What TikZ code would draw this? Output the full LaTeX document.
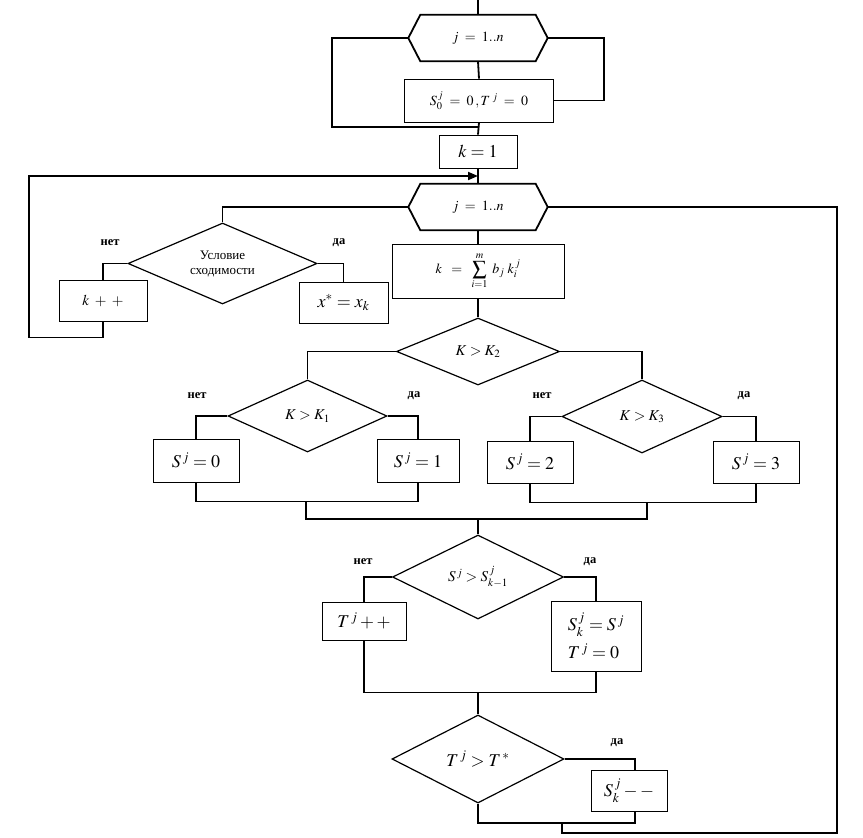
\documentclass[tikz,border=0pt]{standalone}
\usepackage{mathptmx}
\usepackage[no-math]{fontspec}
\setmainfont{Liberation Serif}
\usetikzlibrary{shapes.geometric,arrows.meta}

% loop head drawn as a hexagon round a named node
\newcommand{\hexloop}[1]{%
	\draw[hexline] (#1.west) -- ([xshift=12pt]#1.north west) -- ([xshift=-12pt]#1.north east)
	-- (#1.east) -- ([xshift=-12pt]#1.south east) -- ([xshift=12pt]#1.south west) -- cycle;}

\begin{document}
\begin{tikzpicture}[x=1pt, y=-1pt, >={Triangle[length=10pt,width=8pt]}]
				\tikzstyle{box} = [draw, line width=0.8pt, inner sep=0pt]
				\tikzstyle{test} = [draw, diamond, line width=1.2pt, inner sep=0pt]
				\tikzstyle{loophead} = [inner sep=0pt, minimum width=139pt, minimum height=46pt]
				\tikzstyle{hexline} = [line width=1.8pt]
				\tikzstyle{wire} = [line width=1.8pt]
				\tikzstyle{lbl} = [font=\fontsize{12.5}{14}\selectfont\bfseries]
				\tikzstyle{bigm} = [font=\fontsize{18}{22}\selectfont]
				\tikzstyle{midm} = [font=\fontsize{15}{18}\selectfont]
				\tikzstyle{smallm} = [font=\fontsize{14}{16}\selectfont]
				\useasboundingbox (0,0) rectangle (863,838);
				% nodes
				\node[loophead, smallm] (h1) at (478,38) {$j\;=\;1..n$};
				\hexloop{h1}
				\node[box, smallm, minimum width=149pt, minimum height=43pt] (s0) at (479,100.5) {$S_{0}^{\,j}\;=\;0\,,T^{\;j}\;=\;0$};
				\node[box, bigm, minimum width=78pt, minimum height=33pt] (k1) at (478,151.5) {$k=1$};
				\node[loophead, smallm] (h2) at (478,207) {$j\;=\;1..n$};
				\hexloop{h2}
				\node[box, smallm, minimum width=172pt, minimum height=54pt] (sum) at (478,271) {$\displaystyle k\;\;=\;\;\sum_{i=1}^{m}\;b_{j}\;k_{i}^{\,j}$};
				\node[test, aspect=2.33, minimum width=189pt, minimum height=81pt, align=center, font=\fontsize{13}{15}\selectfont] (conv) at (222.5,263.5) {Условие\\сходимости};
				\node[box, midm, minimum width=88pt, minimum height=41pt] (kpp) at (103,300.5) {$k\;+\;+$};
				\node[box, bigm, minimum width=89pt, minimum height=41pt] (xs) at (343.5,302.5) {$x^{*}=x_{k}$};
				\node[test, midm, aspect=2.43, minimum width=163pt, minimum height=67pt] (d2) at (478,351.5) {$K>K_{2}$};
				\node[test, midm, aspect=2.2, minimum width=159pt, minimum height=72pt] (d1) at (307.5,416) {$K>K_{1}$};
				\node[test, midm, aspect=2.2, minimum width=160pt, minimum height=73pt] (d3) at (642,416.5) {$K>K_{3}$};
				\node[box, bigm, minimum width=86pt, minimum height=43pt] (s0b) at (196,460.5) {$S^{\,j}=0$};
				\node[box, bigm, minimum width=82pt, minimum height=43pt] (s1b) at (418,460.5) {$S^{\,j}=1$};
				\node[box, bigm, minimum width=86pt, minimum height=42pt] (s2b) at (530,462) {$S^{\,j}=2$};
				\node[box, bigm, minimum width=86pt, minimum height=42pt] (s3b) at (756,462) {$S^{\,j}=3$};
				\node[test, midm, aspect=2.04, minimum width=171pt, minimum height=84pt] (d4) at (478,577) {$S^{\,j}>S_{k-1}^{\,j}$};
				\node[box, bigm, minimum width=84pt, minimum height=38pt] (tpp) at (364,621) {$T^{\,j}++$};
				\node[box, bigm, minimum width=90pt, minimum height=70pt, align=left] (sk) at (596,636) {$S_{k}^{\,j}=S^{\,j}$\\[6pt]$T^{\,j}=0$};
				\node[test, bigm, aspect=1.95, minimum width=172pt, minimum height=88pt] (d5) at (478,759) {$T^{\,j}>T^{\,*}$};
				\node[box, bigm, minimum width=76pt, minimum height=41pt] (sd) at (629,790.5) {$S_{k}^{\,j}--$};
				% branch labels
				\node[lbl] (n1) at (110,243) {нет};
				\node[lbl] (y1) at (339,243) {да};
				\node[lbl] (n2) at (197,396) {нет};
				\node[lbl] (y2) at (414,396) {да};
				\node[lbl] (n3) at (542,396) {нет};
				\node[lbl] (y3) at (744,396) {да};
				\node[lbl] (n4) at (363,562) {нет};
				\node[lbl] (y4) at (590,562) {да};
				\node[lbl] (y5) at (617,743) {да};
				% joints
				\coordinate (top) at (478,0);
				\coordinate (j1) at (478,127);
				\coordinate (j2) at (478,176);
				\coordinate (c1) at (306,501);
				\coordinate (c2) at (647,502);
				\coordinate (m2) at (478,519);
				\coordinate (m3) at (478,692);
				\coordinate (m4) at (562,822);
				% connectors
				\draw[wire] (top) -- (h1.north);
				\draw[wire] (h1.south) -- (s0.north);
				\draw[wire] (s0.south) -- (k1.north);
				\draw[wire] (h1.west) -- ++(-76,0) |- (j1);
				\draw[wire] (h1.east) -- ++(56,0) |- (s0.east);
				\draw[wire] (k1.south) -- (h2.north);
				\draw[wire, ->] (kpp.south) -- ++(0,16) -- ++(-74,0) |- (j2);
				\draw[wire] (h2.west) -| (conv.north);
				\draw[wire] (conv.west) -| (kpp.north);
				\draw[wire] (conv.east) -| (xs.north);
				\draw[wire] (h2.south) -- (sum.north);
				\draw[wire] (sum.south) -- (d2.north);
				\draw[wire] (d2.west) -| (d1.north);
				\draw[wire] (d2.east) -| (d3.north);
				\draw[wire] (d1.west) -| (s0b.north);
				\draw[wire] (d1.east) -| (s1b.north);
				\draw[wire] (d3.west) -| (s2b.north);
				\draw[wire] (d3.east) -| (s3b.north);
				\draw[wire] (s0b.south) -- ++(0,19) -| (s1b.south);
				\draw[wire] (s2b.south) -- ++(0,19) -| (s3b.south);
				\draw[wire] (c1) |- (m2) -| (c2);
				\draw[wire] (m2) -- (d4.north);
				\draw[wire] (d4.west) -| (tpp.north);
				\draw[wire] (d4.east) -| (sk.north);
				\draw[wire] (tpp.south) -- ++(0,52) -| (sk.south);
				\draw[wire] (m3) -- (d5.north);
				\draw[wire] (d5.east) -| ([xshift=6pt]sd.north);
				\draw[wire] (d5.south) -- ++(0,19) -| ([xshift=6pt]sd.south);
				\draw[wire] (m4) -- ++(0,11) -- ++(275,0) |- (h2.east);
\end{tikzpicture}
\end{document}
